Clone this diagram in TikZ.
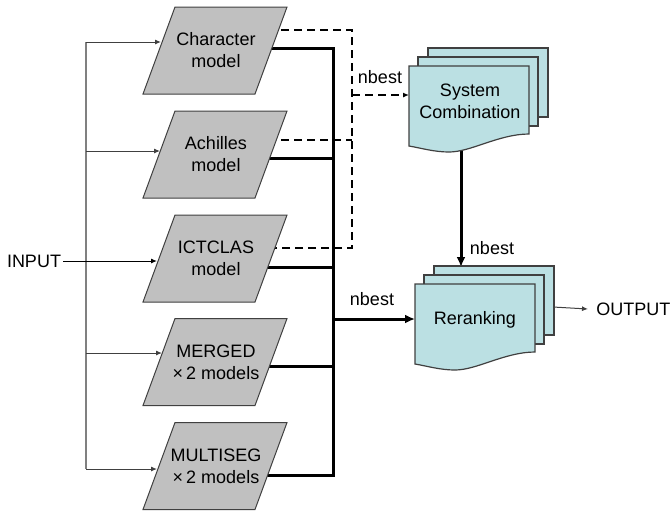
\documentclass[tikz,border=0pt]{standalone}
\usepackage{fontspec}
\setmainfont{Liberation Sans}
\usetikzlibrary{arrows.meta,backgrounds}

\definecolor{modelgray}{HTML}{C0C0C0}
\definecolor{docfill}{HTML}{BBE0E3}
\definecolor{edgegray}{HTML}{404040}

% parallelogram model box: name, centre y, text
\newcommand\modelbox[3]{%
  \filldraw[modelshape] (175,{#2-43.5}) -- (287,{#2-43.5}) -- (255,{#2+43.5}) -- (143,{#2+43.5}) -- cycle;
  \node[txt] (#1) at (216,#2) {#3};
}

\tikzset{
  txt/.style={font=\fontsize{9}{11}\selectfont, align=center, inner sep=0pt},
  modelshape/.style={fill=modelgray, draw=edgegray, line width=0.5pt},
  docsheet/.style={fill=docfill, draw=edgegray, line width=0.6pt},
  thinc/.style={line width=0.5pt, draw=black!75},
  busc/.style={line width=0.6pt, draw=black!50},
  thickc/.style={line width=1.5pt, draw=black},
  dashc/.style={line width=1.2pt, draw=black, dash pattern=on 4pt off 2.5pt},
  smalltip/.style={-{Latex[length=3pt,width=2.5pt]}},
  bigtip/.style={-{Latex[length=5pt,width=4.5pt]}},
  docstack/.pic={
    \filldraw[docsheet] (19,-18) rectangle (139,51);
    \filldraw[docsheet] (9,-9) rectangle (129,60);
    \filldraw[docsheet] (0,0) -- (120,0) -- (120,68)
      .. controls (90,68) and (62,86) .. (40,86)
      .. controls (25,86) and (12,82) .. (0,80) -- cycle;
  }
}

\begin{document}
\begin{tikzpicture}[x=0.5pt,y=-0.5pt]
\useasboundingbox (0,0) rectangle (671,511);

% model boxes
\modelbox{m1}{50.5}{Character\\model}
\modelbox{m2}{154.5}{Achilles\\model}
\modelbox{m3}{258.5}{ICTCLAS\\model}
\modelbox{m4}{362}{MERGED\\×\,2 models}
\modelbox{m5}{466}{MULTISEG\\×\,2 models}

% combination and reranking stacks
\pic at (409,66) {docstack};
\node[txt] (sc) at (470,101) {System\\Combination};
\pic at (415,284) {docstack};
\node[txt] (rr) at (475,320) {Reranking};

% outer texts
\node[txt, inner sep=1pt] (in) at (34,261) {INPUT};
\node[txt, inner sep=4pt, anchor=west] (out) at (588,309) {OUTPUT};
\node[txt] (lb1) at (380,77) {nbest};
\node[txt] (lb2) at (372,299) {nbest};
\node[txt] (lb3) at (492,248) {nbest};

% connection points
\coordinate (ibus) at (86,0);
\coordinate (bus) at (333,319);
\coordinate (dbus) at (352,95);
\coordinate (scin) at (409,95);
\coordinate (rrin) at (415,319);
\coordinate (scout) at (461,140);
\coordinate (rrtop) at (461,267);
\coordinate (rrout) at (553,307);

\path (m1) ++(-55,-8.5) coordinate (i1)
      (m2) ++(-56,-3.5) coordinate (i2)
      (m3) ++(-59,2.5) coordinate (i3)
      (m4) ++(-54,-9) coordinate (i4)
      (m5) ++(-59,3) coordinate (i5);
\path (m1) ++(0,-2.5) coordinate (s1)
      (m2) ++(0,3.5) coordinate (s2)
      (m3) ++(0,8.5) coordinate (s3)
      (m4) ++(0,4) coordinate (s4)
      (m5) ++(0,9) coordinate (s5);
\path (m1) ++(0,-20.5) coordinate (d1)
      (m2) ++(0,-14.5) coordinate (d2)
      (m3) ++(0,-10.5) coordinate (d3);

\begin{pgfonlayer}{background}
  % input fan-out
  \draw[busc] (ibus |- i1) -- (ibus |- i5);
  \foreach \k in {1,2,4,5} \draw[thinc, smalltip] (ibus |- i\k) -- (i\k);
  \draw[thinc, draw=black, smalltip] (in.east) -- (i3);

  % solid n-best bus
  \draw[thickc] (s1) -- (s1 -| bus) -- (s5 -| bus) -- (s5);
  \foreach \k in {2,3,4} \draw[thickc] (s\k) -- (s\k -| bus);
  \draw[thickc, bigtip] (bus) -- (rrin);

  % dashed bus to system combination
  \draw[dashc] (d1) -- (d1 -| dbus) -- (d3 -| dbus) -- (d3);
  \draw[dashc] (d2) -- (d2 -| dbus);
  \draw[dashc, smalltip] (dbus) -- (scin);

  % combination to reranking, reranking to output
  \draw[thickc, bigtip] (scout) -- (rrtop);
  \draw[thinc, smalltip] (rrout) -- (out.west);
\end{pgfonlayer}
\end{tikzpicture}
\end{document}
